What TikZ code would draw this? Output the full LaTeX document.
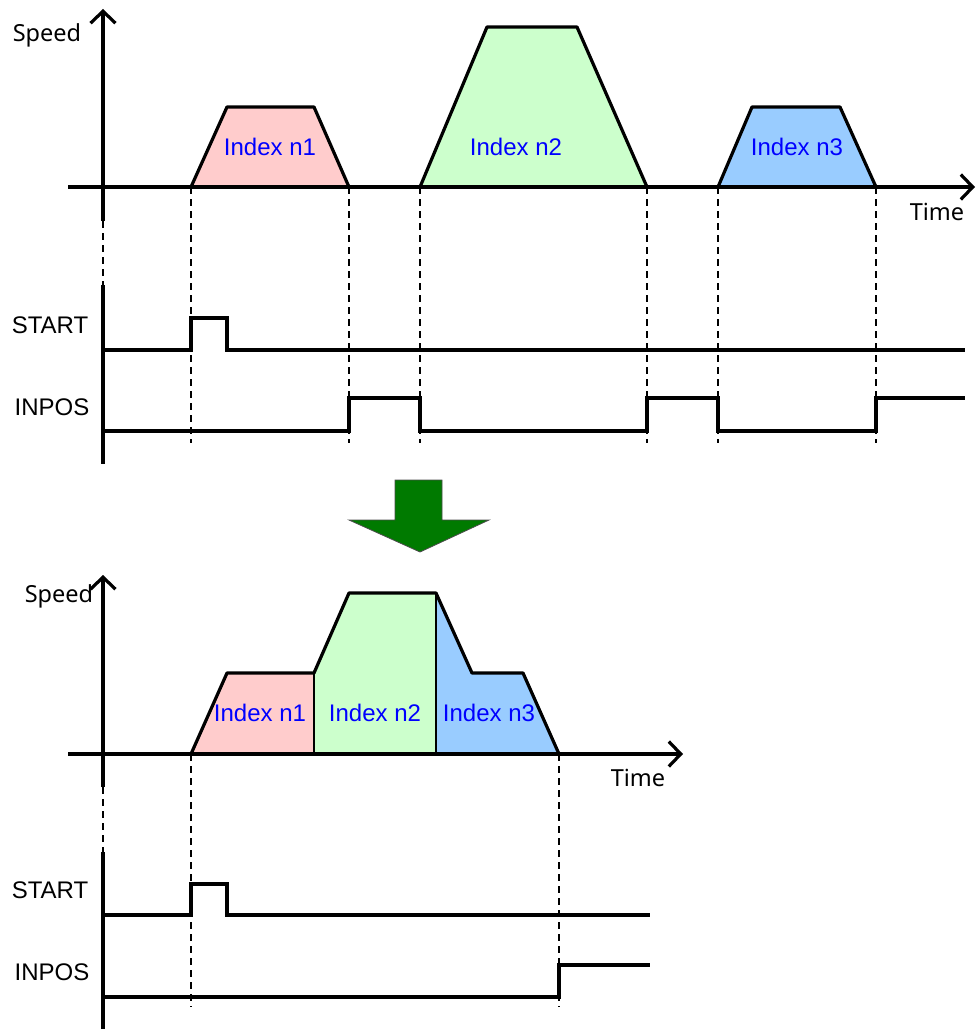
\documentclass[tikz,border=0pt]{standalone}
\usepackage{fontspec}
\setmainfont{Liberation Sans}
\newfontfamily\axisfont{Noto Sans}
\usetikzlibrary{arrows.meta}
\definecolor{pinkfill}{HTML}{FFCCCC}
\definecolor{greenfill}{HTML}{CCFFCC}
\definecolor{bluefill}{HTML}{99CCFF}
\definecolor{idxblue}{HTML}{0000FF}
\definecolor{arrgreen}{HTML}{007A00}
\tikzset{
  axisline/.style={line width=3.2pt},
  axisarrow/.style={line width=3.2pt,-{Straight Barb[length=12pt,width=25pt]}},
  sigline/.style={line width=3.2pt,line join=miter},
  guide/.style={line width=2.3pt,dash pattern=on 7pt off 5pt},
  profile/.style={line width=3.2pt,line join=round},
  divider/.style={line width=1.6pt},
  axislabel/.style={font=\axisfont\fontsize{23.5}{27}\selectfont,inner sep=0pt},
  siglabel/.style={font=\fontsize{24}{28}\selectfont,inner sep=0pt},
  idxlabel/.style={font=\fontsize{24}{28}\selectfont,text=idxblue,inner sep=0pt},
  bigarrow/.style={fill=arrgreen,draw=black!70,line width=0.8pt},
}
\begin{document}
\begin{tikzpicture}[x=1pt,y=-1pt]
\useasboundingbox (0,0) rectangle (978,1030);

% ================= TOP CHART =================
\fill[pinkfill] (191,187) -- (227,107) -- (314,107) -- (349,187) -- cycle;
\fill[greenfill] (420,187) -- (487,27) -- (577,27) -- (647,187) -- cycle;
\fill[bluefill] (718,187) -- (752,107) -- (840,107) -- (876,187) -- cycle;
\draw[profile] (191,187) -- (227,107) -- (314,107) -- (349,187);
\draw[profile] (420,187) -- (487,27) -- (577,27) -- (647,187);
\draw[profile] (718,187) -- (752,107) -- (840,107) -- (876,187);
\node[idxlabel] (t1) at (270,147) {Index n1};
\node[idxlabel] (t2) at (516,147) {Index n2};
\node[idxlabel] (t3) at (797,147) {Index n3};

\coordinate (tv0) at (103,221);
\coordinate (tv1) at (103,9);
\coordinate (th0) at (68,187);
\coordinate (th1) at (975,187);
\draw[axisarrow] (tv0) -- (tv1);
\draw[axisarrow] (th0) -- (th1);
\node[axislabel] (tspeed) at (47,35) {Speed};
\node[axislabel] (ttime) at (937,212) {Time};

\coordinate (tg0a) at (103,221); \coordinate (tg0b) at (103,285);
\draw[guide] (tg0a) -- (tg0b);
\foreach \x in {191,349,420,647,718,876}{
  \draw[guide] (\x,187) -- (\x,443);
}

\coordinate (ts0) at (103,285);
\coordinate (ts1) at (103,464);
\draw[axisline] (ts0) -- (ts1);
\node[siglabel] (tstart) at (50,325) {START};
\node[siglabel] (tinpos) at (52,407) {INPOS};
\draw[sigline] (103,350) -- (191,350) -- (191,318) -- (227,318) -- (227,350) -- (965,350);
\draw[sigline] (103,431) -- (349,431) -- (349,398) -- (420,398) -- (420,431)
  -- (647,431) -- (647,398) -- (718,398) -- (718,431) -- (876,431) -- (876,398) -- (965,398);

% ================= ARROW =================
\draw[bigarrow] (395,480) -- (442,480) -- (442,520) -- (489,520) -- (420,552)
  -- (349,520) -- (395,520) -- cycle;

% ================= BOTTOM CHART =================
\fill[pinkfill] (191,754) -- (227,673) -- (314,673) -- (314,754) -- cycle;
\fill[greenfill] (314,754) -- (314,673) -- (349,593) -- (436,593) -- (436,754) -- cycle;
\fill[bluefill] (436,754) -- (436,593) -- (472,673) -- (523,673) -- (559,754) -- cycle;
\draw[divider] (314,673) -- (314,754);
\draw[divider] (436,593) -- (436,754);
\draw[profile] (191,754) -- (227,673) -- (314,673) -- (349,593) -- (436,593)
  -- (472,673) -- (523,673) -- (559,754);
\node[idxlabel] (b1) at (260,713) {Index n1};
\node[idxlabel] (b2) at (375,713) {Index n2};
\node[idxlabel] (b3) at (489,713) {Index n3};

\coordinate (bv0) at (103,787);
\coordinate (bv1) at (103,575);
\coordinate (bh0) at (68,754);
\coordinate (bh1) at (683,754);
\draw[axisarrow] (bv0) -- (bv1);
\draw[axisarrow] (bh0) -- (bh1);
\node[axislabel] (bspeed) at (59,596) {Speed};
\node[axislabel] (btime) at (638,778) {Time};

\coordinate (bg0a) at (103,787); \coordinate (bg0b) at (103,852);
\draw[guide] (bg0a) -- (bg0b);
\foreach \x in {191,559}{
  \draw[guide] (\x,754) -- (\x,1007);
}

\coordinate (bs0) at (103,852);
\coordinate (bs1) at (103,1029);
\draw[axisline] (bs0) -- (bs1);
\node[siglabel] (bstart) at (50,890) {START};
\node[siglabel] (binpos) at (52,972) {INPOS};
\draw[sigline] (103,915) -- (191,915) -- (191,884) -- (227,884) -- (227,915) -- (650,915);
\draw[sigline] (103,997) -- (559,997) -- (559,965) -- (650,965);
\end{tikzpicture}
\end{document}
